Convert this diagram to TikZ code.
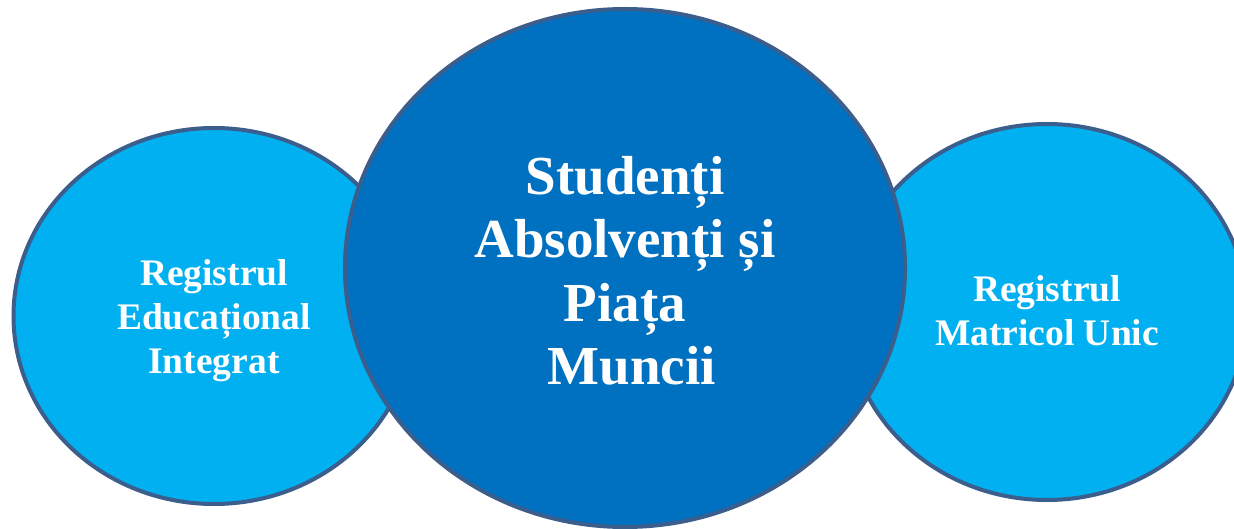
\documentclass[tikz,border=0pt]{standalone}
\usepackage{fontspec}
\setmainfont{Liberation Serif}
\usetikzlibrary{shapes.geometric}

\definecolor{rim}{RGB}{59,94,140}
\definecolor{sky}{RGB}{0,176,240}
\definecolor{deep}{RGB}{0,112,192}

\tikzstyle{side}=[ellipse, draw=rim, line width=4pt, fill=sky, inner sep=0pt, minimum width=401pt, minimum height=376pt]
\tikzstyle{hub}=[ellipse, draw=rim, line width=4pt, fill=deep, inner sep=0pt, minimum width=560pt, minimum height=518pt]
\tikzstyle{sidetext}=[text=white, align=center, inner sep=0pt, font=\bfseries\fontsize{37.5}{44}\selectfont]
\tikzstyle{hubtext}=[text=white, align=center, inner sep=0pt, font=\bfseries\fontsize{55}{63.5}\selectfont]

\begin{document}
\begin{tikzpicture}[x=1pt, y=-1pt]
			\useasboundingbox (0,0) rectangle (1234,529);
			%The two registers on the sides
			\foreach \pos/\name in {{(214,316)/rei}, {(1047,312)/rmu}}
			\node[side] (\name) at \pos {};
			%The middle one on top
			\node[hub] (spm) at (625,268) {};
			%Texts
			\node[sidetext] (reitext) at (214,321) {Registrul\\Educațional\\Integrat};
			\node[sidetext] (rmutext) at (1047,311) {Registrul\\Matricol Unic};
			\node[hubtext] (spmtext) at (625,271) {Studenți\\Absolvenți și\\Piața\\~Muncii};
\end{tikzpicture}
\end{document}
